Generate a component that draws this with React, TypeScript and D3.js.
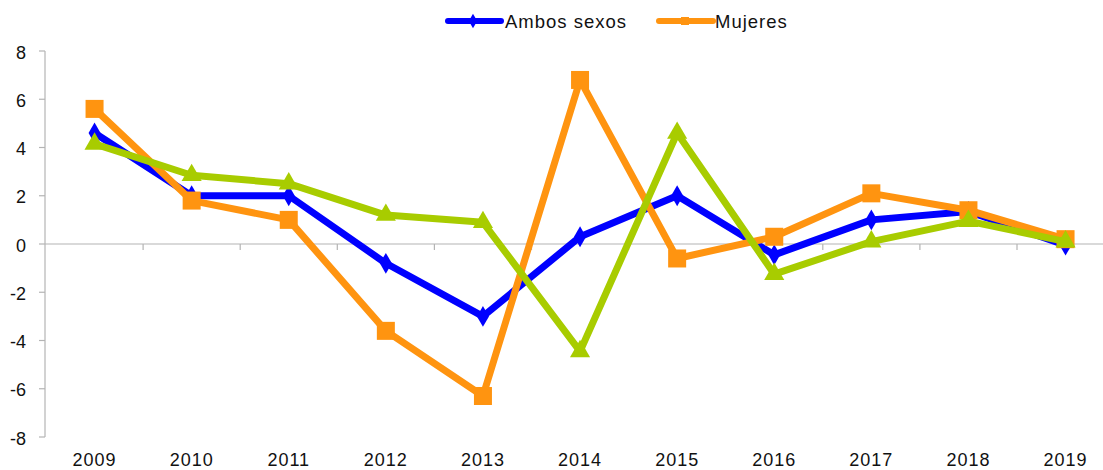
import React from "react";
import * as d3 from "d3";

const years = ["2009", "2010", "2011", "2012", "2013", "2014", "2015", "2016", "2017", "2018", "2019"];
const ambosSexos = [4.6, 2.0, 2.0, -0.8, -3.0, 0.3, 2.0, -0.45, 1.0, 1.35, -0.05];
const mujeres = [5.6, 1.8, 1.0, -3.6, -6.3, 6.8, -0.6, 0.3, 2.1, 1.4, 0.2];
const tercera = [4.15, 2.85, 2.5, 1.2, 0.9, -4.45, 4.6, -1.25, 0.1, 0.95, 0.1];
const yTicks = [-8, -6, -4, -2, 0, 2, 4, 6, 8];

const W = 1103;
const H = 470;
const FONT = "'Liberation Sans', Arial, sans-serif";
const BLUE = "#0000FF";
const ORANGE = "#FF9410";
const GREEN = "#A8CC00";

export default function App() {
  React.useEffect(() => {
    document.body.style.margin = "0";
  }, []);

  const x = d3.scaleBand<string>().domain(years).range([46, 46 + 11 * 97.1]);
  const y = d3.scaleLinear().domain([-8, 8]).range([437, 51]);
  const cx = (yr: string) => (x(yr) as number) + x.bandwidth() / 2;

  const line = d3
    .line<number>()
    .x((_, i) => cx(years[i]))
    .y((v) => y(v));

  const boundaries = years.map((yr) => x(yr) as number).slice(1);

  const diamond = d3.symbol().type(d3.symbolDiamond).size(125)();
  const tri = d3.symbol().type(d3.symbolTriangle).size(175)();

  return (
    <svg width={W} height={H} style={{ position: "absolute", left: 0, top: 0, background: "#fff" }}>
      {/* Y axis */}
      <line x1={45} x2={45} y1={y(8)} y2={y(-8)} stroke="#b4b4b4" strokeWidth={1.2} />
      {yTicks.map((t) => (
        <g key={t}>
          <line x1={39} x2={45} y1={y(t)} y2={y(t)} stroke="#b4b4b4" strokeWidth={1.2} />
          <text
            x={26}
            y={y(t) + 1.5}
            textAnchor="end"
            dominantBaseline="central"
            fontFamily={FONT}
            fontSize={18}
            fill="#111"
          >
            {t}
          </text>
        </g>
      ))}
      {/* zero axis */}
      <line x1={45} x2={W} y1={y(0)} y2={y(0)} stroke="#b4b4b4" strokeWidth={1.2} />
      {boundaries.map((b, i) => (
        <line key={i} x1={b} x2={b} y1={y(0)} y2={y(0) + 6} stroke="#b4b4b4" strokeWidth={1.2} />
      ))}
      {years.map((yr) => (
        <text
          key={yr}
          x={cx(yr)}
          y={466}
          textAnchor="middle"
          fontFamily={FONT}
          fontSize={18}
          letterSpacing={1}
          fill="#111"
        >
          {yr}
        </text>
      ))}

      {/* series: blue */}
      <path d={line(ambosSexos) || ""} fill="none" stroke={BLUE} strokeWidth={7} strokeLinejoin="round" />
      {ambosSexos.map((v, i) => (
        <path key={i} d={diamond || ""} transform={`translate(${cx(years[i])},${y(v)})`} fill={BLUE} />
      ))}
      {/* orange */}
      <path d={line(mujeres) || ""} fill="none" stroke={ORANGE} strokeWidth={7} strokeLinejoin="round" />
      {mujeres.map((v, i) => (
        <rect key={i} x={cx(years[i]) - 9} y={y(v) - 9} width={18} height={18} fill={ORANGE} />
      ))}
      {/* green */}
      <path d={line(tercera) || ""} fill="none" stroke={GREEN} strokeWidth={7} strokeLinejoin="round" />
      {tercera.map((v, i) => (
        <path key={i} d={tri || ""} transform={`translate(${cx(years[i])},${y(v)})`} fill={GREEN} />
      ))}

      {/* legend */}
      <line x1={448} x2={501} y1={21} y2={21} stroke={BLUE} strokeWidth={6} strokeLinecap="round" />
      <path d={d3.symbol().type(d3.symbolDiamond).size(60)() || ""} transform="translate(473,21)" fill={BLUE} />
      <text x={505} y={28} fontFamily={FONT} fontSize={18.5} letterSpacing={1} fill="#111">
        Ambos sexos
      </text>
      <line x1={659} x2={713} y1={21} y2={21} stroke={ORANGE} strokeWidth={6} strokeLinecap="round" />
      <rect x={681} y={17} width={8} height={8} fill={ORANGE} />
      <text x={715} y={28} fontFamily={FONT} fontSize={18.5} letterSpacing={1} fill="#111">
        Mujeres
      </text>
    </svg>
  );
}
